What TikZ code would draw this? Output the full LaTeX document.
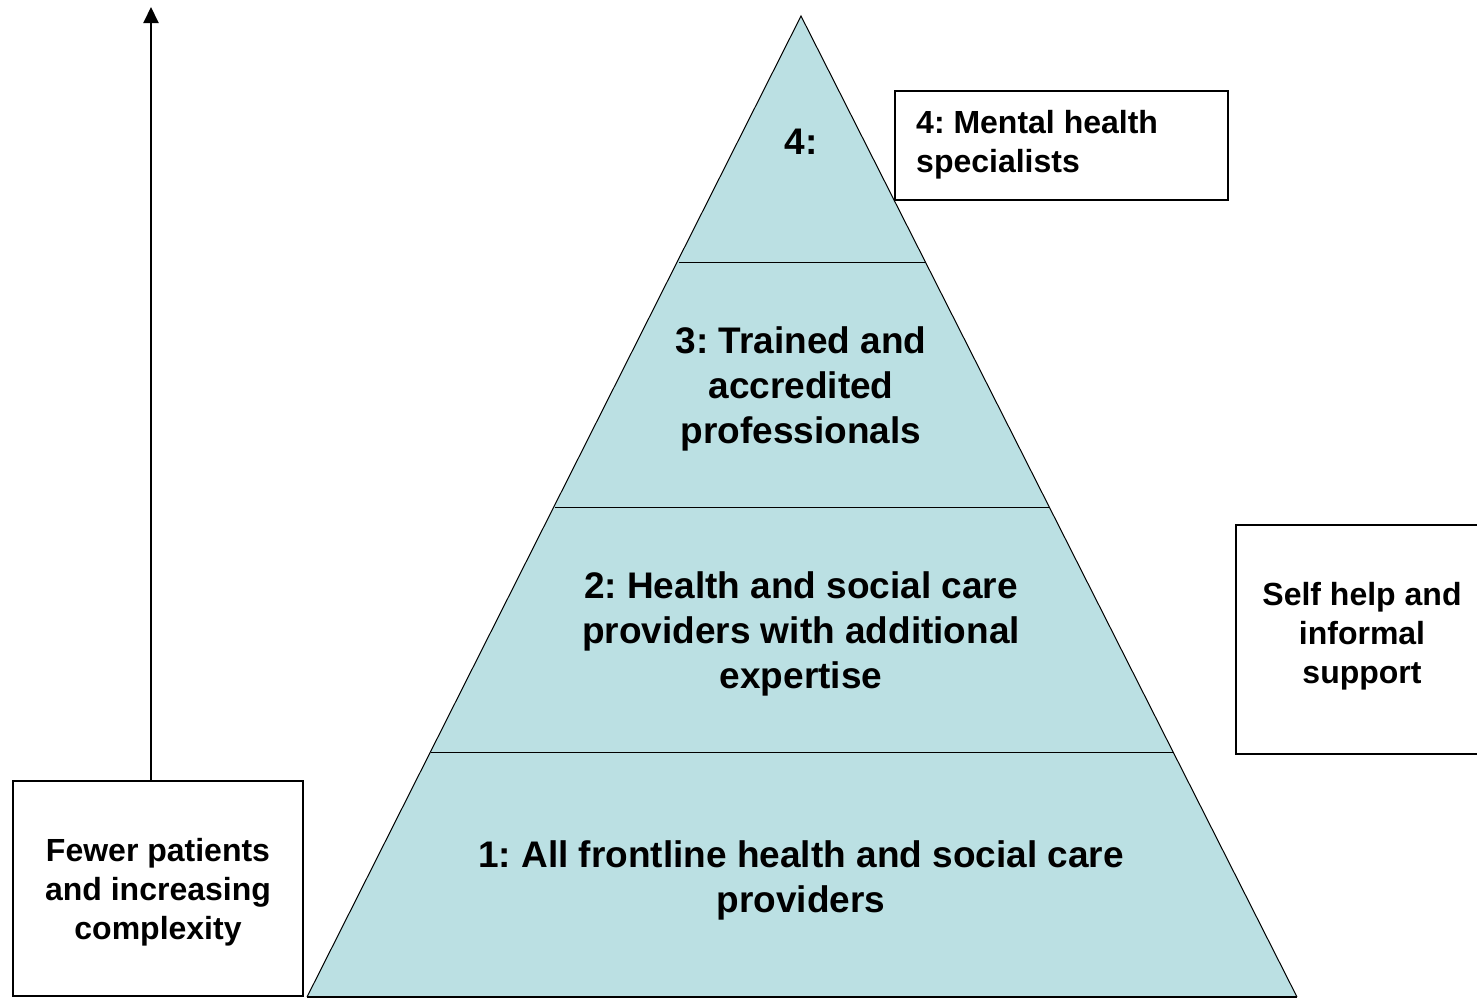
\documentclass[tikz,border=0pt]{standalone}
\usepackage{fontspec}
\setmainfont{Liberation Sans}
\usetikzlibrary{arrows.meta,calc}
\definecolor{tier}{RGB}{187,224,227}
\frenchspacing
\begin{document}
\begin{tikzpicture}[x=1pt,y=-1pt,
  bigtxt/.style={align=center,font=\fontsize{37}{45}\selectfont\bfseries,inner sep=0pt},
  smalltxt/.style={font=\fontsize{32}{39}\selectfont\bfseries,inner sep=0pt},
  sidebox/.style={draw,line width=2pt,fill=white},
  tierline/.style={draw=black,line width=1pt}]
\useasboundingbox (0,0) rectangle (1477,1002);
% pyramid
\coordinate (apex) at (801,16);
\coordinate (bl) at (307,997);
\coordinate (br) at (1297,997);
\fill[tier] (apex) -- (br) -- (bl) -- cycle;
\draw[tierline] (679,262) -- (925,262);
\draw[tierline] (555,507) -- (1049,507);
\draw[tierline] (431,752) -- (1173,752);
\draw[tierline] (bl) -- (apex) -- (br);
\draw[line width=1.5pt] (bl) -- (br);
% tier labels
\node[bigtxt] (t4) at (801,142) {4:};
\node[bigtxt] (t3) at (801,389) {3: Trained and\\accredited\\professionals};
\node[bigtxt] (t2) at (801,634) {2: Health and social care\\providers with additional\\expertise};
\node[bigtxt] (t1) at (801,880) {1: All frontline health and social care\\providers};
% side boxes
\node[sidebox,minimum width=333,minimum height=109] (spec) at (1061.5,145.5) {};
\node[smalltxt,align=left,anchor=west] (spectxt) at (916,144.5) {4: Mental health\\specialists};
\node[sidebox,minimum width=252,minimum height=229] (self) at (1362,639.5) {};
\node[smalltxt,align=center] (selftxt) at ($(self.center)+(0,-3)$) {Self help and\\informal\\support};
\node[sidebox,minimum width=290,minimum height=215] (fewer) at (158,888.5) {};
\node[smalltxt,align=center] (fewertxt) at ($(fewer.center)+(0,4)$) {Fewer patients\\and increasing\\complexity};
% arrow
\coordinate (top) at (151,7);
\draw[line width=2pt,-{Triangle[width=15pt,length=16pt]}] (fewer.north -| top) -- (top);
\end{tikzpicture}
\end{document}
